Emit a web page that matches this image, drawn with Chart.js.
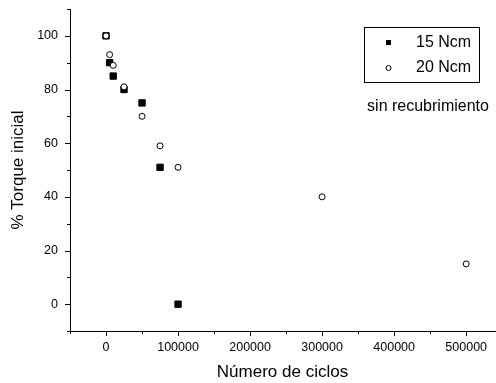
<!DOCTYPE html>
<html>
<head>
<meta charset="utf-8">
<script src="https://cdn.jsdelivr.net/npm/chart.js@4/dist/chart.umd.min.js"></script>
<style>
  html, body { margin: 0; padding: 0; background: #fff; }
  #wrap { width: 496px; height: 383px; }
</style>
</head>
<body>
<div id="wrap"><canvas id="chart"></canvas></div>
<script>
// data
const cycles15 = [0, 5000, 10000, 25000, 50000, 75000, 100000];
const torque15 = [100, 90, 85, 80, 75, 51, 0];

const cycles20 = [0, 5000, 10000, 25000, 50000, 75000, 100000, 300000, 500000];
const torque20 = [100, 93, 89, 81, 70, 59, 51, 40, 15];

const xTickValues = [0, 100000, 200000, 300000, 400000, 500000];
const yTickValues = [0, 20, 40, 60, 80, 100];

const seriesNames = ['15 Ncm', '20 Ncm'];
const noteText = 'sin recubrimiento';

const FONT = '"Liberation Sans", Arial, sans-serif';

const toPoints = (xs, ys) => xs.map((x, i) => ({ x, y: ys[i] }));

/**
 * Outward major / minor tick marks, like the original plot
 */
const tickMarks = {
  id: 'tickMarks',
  afterDraw(chart) {
    const { ctx, scales: { x, y }, chartArea } = chart;
    ctx.save();
    ctx.strokeStyle = '#000';
    ctx.lineWidth = 1;
    ctx.beginPath();
    for (let v = -50000; v <= 500000; v += 50000) {
      const px = Math.round(x.getPixelForValue(v)) + 0.5;
      const len = v % 100000 === 0 ? 5 : 3;
      ctx.moveTo(px, chartArea.bottom);
      ctx.lineTo(px, chartArea.bottom + len);
    }
    for (let v = -10; v <= 110; v += 10) {
      const py = Math.round(y.getPixelForValue(v)) + 0.5;
      const len = v % 20 === 0 ? 5 : 3;
      ctx.moveTo(chartArea.left, py);
      ctx.lineTo(chartArea.left - len, py);
    }
    ctx.stroke();
    ctx.restore();
  }
};

/**
 * Boxed legend and the note inside the plot
 */
const boxLegend = {
  id: 'boxLegend',
  afterDraw(chart) {
    const { ctx } = chart;
    const bx = 364, by = 27, bw = 115, bh = 55;
    ctx.save();
    ctx.strokeStyle = '#000';
    ctx.lineWidth = 1;
    ctx.strokeRect(bx + 0.5, by + 0.5, bw, bh);

    ctx.fillStyle = '#000';
    ctx.fillRect(386, 40, 5, 5);
    ctx.beginPath();
    ctx.arc(388.5, 68, 2.5, 0, Math.PI * 2);
    ctx.stroke();

    ctx.font = '16px ' + FONT;
    ctx.textBaseline = 'middle';
    ctx.textAlign = 'left';
    ctx.fillText(seriesNames[0], 416, 43);
    ctx.fillText(seriesNames[1], 416, 68);

    ctx.textAlign = 'center';
    ctx.fillText(noteText, 428, 107);
    ctx.restore();
  }
};

new Chart(document.getElementById('chart'), {
  type: 'scatter',
  data: {
    datasets: [
      {
        label: seriesNames[0],
        data: toPoints(cycles15, torque15),
        pointStyle: 'rect',
        pointRadius: 4.5,
        backgroundColor: '#000',
        borderColor: '#000',
        borderWidth: 1,
        order: 2 // drawn under the open circles
      },
      {
        label: seriesNames[1],
        data: toPoints(cycles20, torque20),
        pointStyle: 'circle',
        pointRadius: 3,
        backgroundColor: '#fff',
        borderColor: '#000',
        borderWidth: 1,
        order: 1
      }
    ]
  },
  options: {
    responsive: true,
    maintainAspectRatio: false,
    animation: false,
    layout: { autoPadding: false, padding: { top: 9, right: 1, left: 0, bottom: 0 } },
    plugins: {
      legend: { display: false },
      tooltip: { enabled: false }
    },
    scales: {
      x: {
        type: 'linear',
        min: -50000,
        max: 540000,
        afterFit: (s) => {
          s.height = 52;
          s.paddingLeft = 0;
          s.paddingRight = 0;
        },
        afterBuildTicks: (s) => {
          s.ticks = xTickValues.map(v => ({ value: v }));
        },
        grid: { display: false, drawTicks: false },
        border: { display: true, color: '#000', width: 1 },
        ticks: {
          padding: 9,
          color: '#000',
          font: { family: FONT, size: 12.5 },
          maxRotation: 0,
          callback: (v) => String(v)
        },
        title: {
          display: true,
          text: 'Número de ciclos',
          color: '#000',
          font: { family: FONT, size: 17 },
          padding: { top: 4, bottom: 0 }
        }
      },
      y: {
        min: -10,
        max: 110,
        afterFit: (s) => {
          s.width = 70;
          s.paddingTop = 0;
          s.paddingBottom = 0;
        },
        afterBuildTicks: (s) => {
          s.ticks = yTickValues.map(v => ({ value: v }));
        },
        grid: { display: false, drawTicks: false },
        border: { display: true, color: '#000', width: 1 },
        ticks: {
          padding: 12,
          color: '#000',
          font: { family: FONT, size: 12.5 }
        },
        title: {
          display: true,
          text: '% Torque inicial',
          color: '#000',
          font: { family: FONT, size: 17 },
          padding: { top: 8, bottom: 0 }
        }
      }
    }
  },
  plugins: [tickMarks, boxLegend]
});
</script>
</body>
</html>
